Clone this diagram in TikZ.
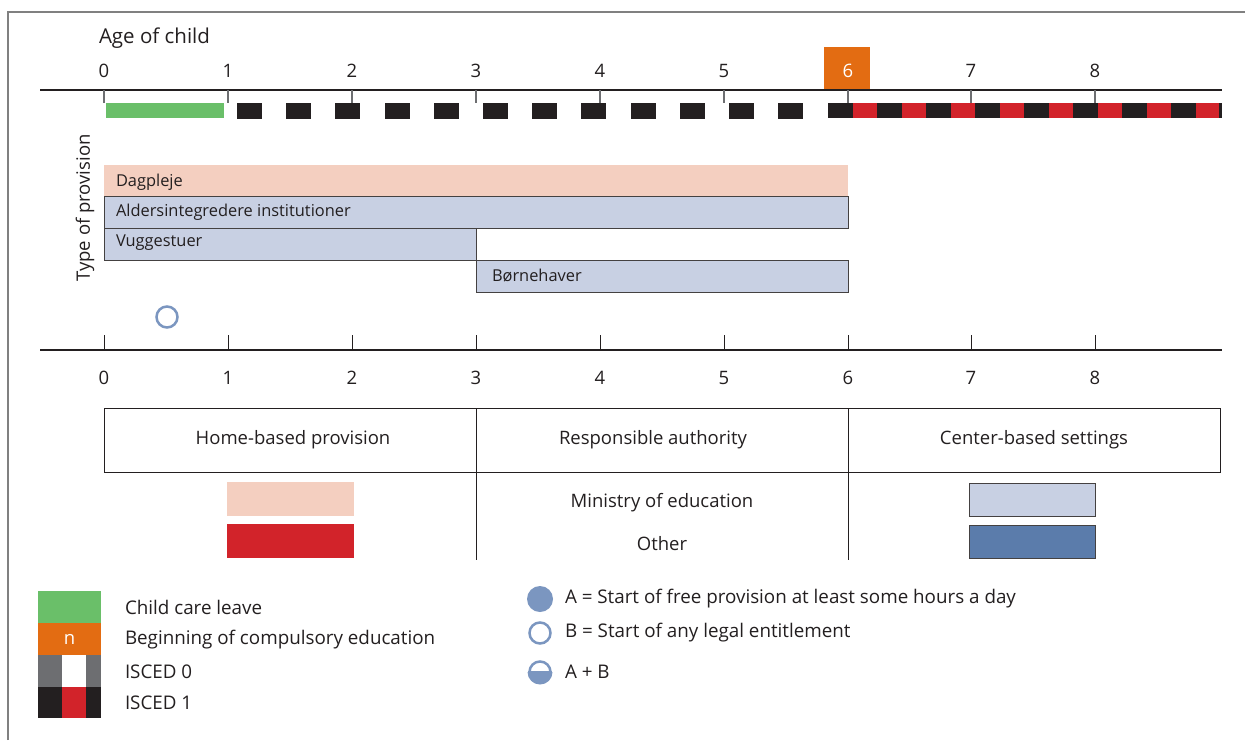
\documentclass[tikz,border=0pt]{standalone}
\usepackage{fontspec}
\setmainfont{Open Sans}
\definecolor{ink}{HTML}{231F20}
\definecolor{framegray}{HTML}{808080}
\definecolor{tickgray}{HTML}{6D6E71}
\definecolor{leave}{HTML}{6ABF69}
\definecolor{compul}{HTML}{E36C12}
\definecolor{iscedred}{HTML}{D2232A}
\definecolor{iscedgray}{HTML}{6D6E71}
\definecolor{homepale}{HTML}{F4CFC0}
\definecolor{centerpale}{HTML}{C8D0E3}
\definecolor{centerdark}{HTML}{5B7CAB}
\definecolor{circ}{HTML}{7B96C0}
\begin{document}
\begin{tikzpicture}[x=1pt,y=-1pt,
  every node/.style={inner sep=0pt,outer sep=0pt,text=ink},
  axisline/.style={ink,line width=1.5pt},
  tickline/.style={tickgray,line width=1.2pt},
  lbl/.style={font=\fontsize{18.5}{22}\selectfont},
  barlbl/.style={font=\fontsize{16.4}{19}\selectfont,anchor=west},
  bluebar/.style={draw=ink!85,line width=1pt,fill=centerpale},
  swatch/.style={draw=none,minimum width=127pt,minimum height=34pt,anchor=north west},
  entcircle/.style={circle,draw=circ,line width=2.5pt,minimum size=21pt},
  legtext/.style={font=\fontsize{18.8}{22}\selectfont,anchor=west}
]
\useasboundingbox (0,0) rectangle (1245,740);
\fill[white] (0,0) rectangle (1245,740);
% frame
\draw[framegray,line width=1.5pt] (8,740) -- (8,12) -- (1245,12);

% ---------- top axis ----------
\node[font=\fontsize{20.5}{24}\selectfont,anchor=west] (agetitle) at (99,38) {Age of child};
\fill[compul] (824,47) rectangle (870,90);
\coordinate (tl) at (40,90);
\coordinate (tr) at (1222,90);
\draw[axisline] (tl) -- (tr);
\foreach \i/\xx in {0/104,1/228,2/352,3/476,4/600,5/724,7/971,8/1095}{
  \node[lbl] (top\i) at (\xx,71) {\i};
  \draw[tickline] (\xx,90) -- (\xx,103);
}
\node[lbl,text=white] (top6) at (848,71) {6};
\draw[tickline] (848,90) -- (848,103);

% child care leave
\fill[leave] (106,103) rectangle (224,118);
% ISCED 0 dashes
\foreach \k in {0,...,11}{
  \fill[ink] ({237+49.2*\k},103) rectangle ({262+49.2*\k},119);
}
% ISCED 1
\fill[iscedred] (828,103) rectangle (1220,118);
\foreach \k in {0,...,7}{
  \fill[ink] ({828+49*\k},103) rectangle ({853+49*\k},118);
}
\fill[ink] (1219,103) rectangle (1222,118);

% ---------- provision bars ----------
\node[lbl,rotate=90] (typeprov) at (85,208) {Type of provision};
\fill[homepale] (104,165) rectangle (848,196);
\node[barlbl] (dag) at (116,182) {Dagpleje};
\draw[bluebar] (104,196) rectangle (848,228);
\node[barlbl] (alder) at (116,212) {Aldersintegredere institutioner};
\draw[bluebar] (104,228) rectangle (476,260);
\node[barlbl] (vugge) at (116,243) {Vuggestuer};
\draw[bluebar] (476,260) rectangle (848,292);
\node[barlbl] (born) at (492,276) {Børnehaver};

\node[entcircle] (entB) at (167,317) {};

% ---------- bottom axis ----------
\coordinate (bl) at (40,350);
\coordinate (br) at (1222,350);
\draw[axisline] (bl) -- (br);
\foreach \i/\xx in {0/104,1/228,2/352,3/476,4/600,5/724,6/848,7/971,8/1095}{
  \draw[ink,line width=1pt] (\xx,335) -- (\xx,350);
  \node[lbl] (bot\i) at (\xx,378) {\i};
}

% ---------- table ----------
\draw[ink,line width=1pt] (104,408) rectangle (1220,472);
\draw[ink,line width=1pt] (476,408) -- (476,560);
\draw[ink,line width=1pt] (848,408) -- (848,560);
\node[lbl] (homehead) at (293,440) {Home-based provision};
\node[lbl] (authhead) at (653,440) {Responsible authority};
\node[lbl] (centhead) at (1034,440) {Center-based settings};
\node[swatch,fill=homepale] (homemin) at (227,482) {};
\node[swatch,fill=iscedred] (homeoth) at (227,524) {};
\node[lbl] (ministry) at (662,503) {Ministry of education};
\node[lbl] (other) at (662,544) {Other};
\node[swatch,fill=centerpale,draw=ink!85,line width=1pt,minimum width=126pt,minimum height=33pt] (centmin) at (969,483.5) {};
\node[swatch,fill=centerdark,draw=ink!85,line width=1pt,minimum width=126pt,minimum height=33pt] (centoth) at (969,525.5) {};

% ---------- legend left ----------
\fill[leave] (38,591) rectangle (101,623);
\fill[compul] (38,623) rectangle (101,655);
\node[lbl,text=white] (nmark) at (69.5,639) {n};
\fill[iscedgray] (38,655) rectangle (101,687);
\fill[white] (62,655) rectangle (86,687);
\fill[ink] (38,687) rectangle (101,718);
\fill[iscedred] (62,687) rectangle (86,718);
\node[legtext] (legleave) at (125,607) {Child care leave};
\node[legtext] (legcomp) at (125,640) {Beginning of compulsory education};
\node[legtext] (legi0) at (125,672) {ISCED 0};
\node[legtext] (legi1) at (125,703) {ISCED 1};

% ---------- legend right ----------
\node[circle,fill=circ,minimum size=26pt] (legA) at (540,599) {};
\node[entcircle] (legB) at (540,633) {};
\fill[circ] (552.5,672) arc[start angle=0,end angle=180,radius=12.5] -- cycle;
\node[entcircle] (legAB) at (540,672) {};
\draw[circ,line width=2pt] (528,672) -- (552,672);
\node[legtext] (txtA) at (565,599) {A = Start of free provision at least some hours a day};
\node[legtext] (txtB) at (565,633) {B = Start of any legal entitlement};
\node[legtext] (txtAB) at (565,672) {A + B};
\end{tikzpicture}
\end{document}
